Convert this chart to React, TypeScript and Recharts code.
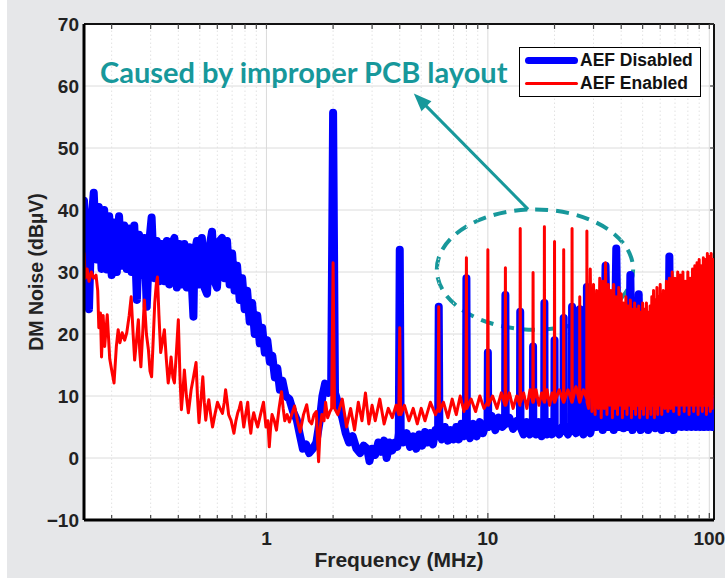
import React from 'react';
import {
  LineChart,
  Line,
  XAxis,
  YAxis,
  CartesianGrid,
  ReferenceLine,
  ReferenceArea,
  Legend,
} from 'recharts';

// ---------- axes ----------
const xMajorTicks = [1, 10, 100];
const xMinorTicks = [0.2, 0.3, 0.4, 0.5, 0.6, 0.7, 0.8, 0.9, 2, 3, 4, 5, 6, 7, 8, 9, 20, 30, 40, 50, 60, 70, 80, 90];
const xAllTicks = [...xMinorTicks, ...xMajorTicks].sort((a, b) => a - b);
const yTicks = [-10, 0, 10, 20, 30, 40, 50, 60, 70];
const xDomain: [number, number] = [0.15, 105];
const yDomain: [number, number] = [-10, 70];

const seriesNames = ['AEF Disabled', 'AEF Enabled'];
const xTitle = 'Frequency (MHz)';
const yTitle = 'DM Noise (dBµV)';
const noteText = 'Caused by improper PCB layout';

// ---------- AEF Disabled (blue) : [MHz, dBµV] ----------
const disabledBroadband: [number, number][] = [
  [0.150, 41.5], [0.154, 33], [0.158, 24], [0.162, 38], [0.166, 42.8], [0.171, 32], [0.175, 40.5], [0.180, 30.5],
  [0.185, 40], [0.190, 30.4], [0.195, 39], [0.200, 29.5], [0.205, 38], [0.211, 30], [0.216, 39], [0.222, 31],
  [0.228, 37.5], [0.234, 30.5], [0.240, 37], [0.246, 30], [0.253, 37.5], [0.260, 25.5], [0.266, 36], [0.273, 29.5],
  [0.281, 35.5], [0.288, 24.4], [0.296, 35], [0.303, 38.8], [0.311, 29], [0.320, 35], [0.328, 28.5], [0.337, 34.5],
  [0.346, 28.5], [0.355, 35], [0.364, 28], [0.374, 34.5], [0.384, 35.5], [0.394, 27.5], [0.404, 34.5], [0.415, 28],
  [0.426, 34.5], [0.437, 27.5], [0.449, 34], [0.461, 27.5], [0.468, 22.8], [0.473, 33], [0.485, 35], [0.498, 28],
  [0.511, 35.5], [0.525, 27.5], [0.539, 26.5], [0.553, 34], [0.568, 36.5], [0.583, 28.5], [0.598, 27.5], [0.614, 35],
  [0.630, 35.5], [0.647, 29], [0.664, 35], [0.682, 28], [0.700, 33], [0.718, 27], [0.737, 31], [0.757, 25.5],
  [0.777, 29], [0.797, 24], [0.818, 27], [0.840, 22], [0.862, 25], [0.885, 20], [0.909, 23], [0.933, 18.5],
  [0.957, 21], [0.983, 17], [1.009, 19], [1.036, 15.5], [1.063, 16.5], [1.091, 13], [1.120, 14.5], [1.150, 11],
  [1.18, 12.5], [1.22, 10], [1.27, 9.5], [1.32, 7.5], [1.37, 6.2], [1.42, 3.5], [1.46, 1.5], [1.51, 2.2],
  [1.56, 0.8], [1.62, 1.5], [1.68, 2.5], [1.74, 6], [1.79, 10], [1.84, 12], [1.90, 10.5], [1.96, 11.5],
];
const disabledHarmonics: [number, number][] = [
  [2.0, 55.7], [2.04, 10.5], [2.12, 8.5], [2.2, 6.5], [2.28, 4], [2.36, 2.5], [2.45, 3.5], [2.55, 1.5],
  [2.65, 0.8], [2.75, 2], [2.85, 1.5], [2.92, -0.5], [3.0, 1.5], [3.1, 0.5], [3.2, 2.5], [3.3, 1],
  [3.4, 2.8], [3.49, 0], [3.6, 2.5], [3.7, 1.2], [3.8, 2.5], [3.9, 1.8], [3.96, 4], [4.0, 33.6],
  [4.04, 4], [4.15, 2.5], [4.3, 4], [4.45, 1.8], [4.6, 3.5], [4.75, 1.5], [4.9, 3.8], [5.05, 2],
  [5.2, 4.2], [5.35, 2.5], [5.5, 4], [5.65, 2.2], [5.8, 4.5], [5.96, 4.5], [6.0, 24.4], [6.04, 4.5],
  [6.2, 3], [6.4, 5], [6.6, 2.8], [6.8, 4.5], [7.0, 3], [7.2, 5], [7.4, 3], [7.6, 5.5],
  [7.8, 3.5], [7.96, 5], [8.0, 29], [8.04, 4.5], [8.3, 3.2], [8.6, 5.5], [8.9, 3.5], [9.2, 5.8],
  [9.5, 4], [9.8, 5.5], [9.96, 5], [10.0, 17], [10.04, 5], [10.4, 6.8], [10.8, 4.5], [11.2, 6.5],
  [11.6, 5], [11.96, 5.5], [12.0, 26.3], [12.04, 5.5], [12.5, 6.5], [13.0, 4.7], [13.5, 6], [13.96, 5],
  [14.0, 23.6], [14.04, 5], [14.5, 3.8], [15.0, 5.8], [15.5, 3.8], [15.96, 5], [16.0, 18], [16.04, 5],
  [16.5, 3.8], [17.0, 5.8], [17.5, 3.5], [17.96, 5], [18.0, 25], [18.04, 5], [18.5, 3.8], [19.0, 5.8],
  [19.5, 3.8], [19.96, 5], [20.0, 19], [20.04, 5], [21.0, 3.8], [21.96, 5.5], [22.0, 22.6], [22.04, 5],
  [23.0, 3.8], [23.96, 5.5], [24.0, 24.4], [24.04, 5], [25.0, 4], [25.96, 5], [26.0, 24], [26.04, 5],
  [27.0, 3.8], [27.96, 5.5], [28.0, 27.6], [28.04, 5], [29.0, 4], [29.6, 5.5],
];
const disabledHighBand: [number, number][] = [
  [30, 20], [31, 5], [32, 14], [33, 4.5], [34, 31], [35, 5], [36, 12], [37, 4.5],
  [38, 33.8], [39, 5], [40, 15], [41, 4.8], [42, 12], [43, 5], [44, 29.5], [45, 4.5],
  [46, 11], [47, 5], [48, 26.4], [49, 4.5], [50, 10], [51, 5], [52, 12], [53, 4.5],
  [54, 9], [55, 5], [56, 10], [57, 4.8], [58, 9], [59, 5], [60, 11], [61, 4.5],
  [62, 9], [63, 5], [64, 12], [65, 4.8], [66, 32.5], [67, 5], [68, 12], [69, 4.5],
  [70, 10], [71, 5], [72, 9], [73, 5.2], [74, 11], [75, 5], [76, 9], [77, 5.5],
  [78, 10], [79, 5], [80, 9], [81, 5.5], [82, 10], [83, 5], [84, 9], [85, 5.5],
  [86, 16], [87, 5], [88, 9], [89, 5.5], [90, 10], [91, 5], [92, 9], [93, 5.5],
  [94, 10], [95, 5], [96, 9], [97, 5.5], [98, 9], [99, 5], [100, 10], [101, 5.5],
  [102, 9], [103, 5], [104, 9], [105, 6],
];

// ---------- AEF Enabled (red) : [MHz, dBµV] ----------
const enabledBroadband: [number, number][] = [
  [0.150, 33], [0.152, 29], [0.155, 30.5], [0.158, 28.5], [0.162, 30], [0.166, 29], [0.170, 29.5], [0.173, 27],
  [0.175, 21], [0.178, 23.4], [0.180, 16.3], [0.183, 23], [0.186, 18], [0.191, 23.1], [0.196, 16], [0.200, 14.2],
  [0.205, 12.1], [0.210, 18], [0.214, 20.7], [0.218, 18.6], [0.223, 20.2], [0.229, 19], [0.234, 20.2], [0.240, 23],
  [0.245, 26], [0.250, 20], [0.254, 15.8], [0.259, 19], [0.264, 22.3], [0.268, 17], [0.271, 14.7], [0.276, 20],
  [0.281, 25.5], [0.287, 20], [0.293, 17.5], [0.298, 14], [0.303, 13.1], [0.308, 19], [0.313, 25], [0.318, 28],
  [0.322, 29.2], [0.327, 23], [0.333, 17], [0.340, 19], [0.346, 20.7], [0.353, 16], [0.360, 12.1], [0.366, 14],
  [0.371, 16.3], [0.378, 13], [0.384, 12.1], [0.392, 17], [0.400, 22.3], [0.407, 13], [0.413, 7.8], [0.420, 11],
  [0.426, 14.2], [0.435, 10], [0.444, 7.3], [0.450, 9], [0.457, 11], [0.468, 13], [0.481, 15.4], [0.488, 10],
  [0.496, 5.7], [0.505, 9], [0.516, 13.1], [0.524, 9], [0.532, 6.1], [0.540, 8], [0.549, 9.4], [0.560, 7],
  [0.571, 5], [0.585, 7], [0.601, 9], [0.617, 8], [0.633, 7.2], [0.645, 9], [0.654, 11], [0.665, 9],
  [0.675, 7], [0.693, 6], [0.713, 4], [0.728, 6], [0.742, 7.3], [0.754, 8], [0.766, 9], [0.778, 7],
  [0.790, 5], [0.806, 7], [0.823, 9], [0.836, 6], [0.850, 4], [0.862, 6], [0.876, 7.3], [0.895, 6],
  [0.913, 5], [0.940, 7], [0.970, 9], [0.995, 5], [1.015, 6], [1.03, 1.8], [1.045, 5], [1.06, 7],
  [1.085, 6], [1.11, 4.5], [1.14, 8], [1.17, 10.7], [1.19, 8], [1.21, 6], [1.24, 7], [1.27, 5.8],
  [1.30, 7], [1.34, 8.4], [1.38, 6], [1.42, 4.2], [1.47, 7], [1.52, 8.6], [1.56, 6], [1.60, 5.5],
  [1.64, 7], [1.68, 7.5], [1.70, 3], [1.72, -0.6], [1.75, 5], [1.78, 7], [1.82, 6], [1.85, 9],
  [1.89, 6.5], [1.93, 7.4], [1.97, 8],
];
const enabledHarmonics: [number, number][] = [
  [2.0, 31.5], [2.03, 8], [2.1, 7], [2.2, 9.5], [2.3, 5], [2.4, 8], [2.5, 4.5], [2.6, 9],
  [2.7, 6], [2.8, 10.5], [2.9, 5.5], [3.0, 8.5], [3.1, 6], [3.25, 9.5], [3.4, 5.5], [3.55, 8],
  [3.7, 6.5], [3.85, 8.5], [3.96, 7], [4.0, 21], [4.04, 7], [4.2, 8.5], [4.4, 6], [4.6, 8],
  [4.8, 5.5], [5.0, 8], [5.2, 6], [5.5, 9], [5.8, 7], [5.96, 8], [6.0, 24.4], [6.04, 7.5],
  [6.3, 9], [6.6, 6.5], [6.9, 9.5], [7.2, 7], [7.5, 10], [7.8, 7.5], [7.96, 9], [8.0, 32.3],
  [8.04, 8], [8.4, 9.5], [8.8, 7.5], [9.2, 10], [9.6, 8], [9.96, 9], [10.0, 33.6], [10.04, 8.5],
  [10.5, 10], [11.0, 8], [11.5, 10.5], [11.96, 8.5], [12.0, 30.7], [12.04, 8.5], [12.5, 10.5], [13.0, 8],
  [13.5, 10], [13.96, 8.5], [14.0, 37], [14.04, 9], [14.5, 10.5], [15.0, 8], [15.5, 11], [15.96, 9],
  [16.0, 29.9], [16.04, 9], [16.5, 11], [17.0, 8.5], [17.5, 10.5], [17.96, 9], [18.0, 37.3], [18.04, 9],
  [18.5, 11], [19.0, 8.5], [19.5, 10.5], [19.96, 9], [20.0, 34.9], [20.04, 9], [21.0, 11], [21.96, 9],
  [22.0, 33.6], [22.04, 9], [23.0, 11], [23.96, 9], [24.0, 37], [24.04, 9], [25.0, 11.5], [25.96, 9],
  [26.0, 26], [26.04, 9], [27.0, 11], [27.96, 9.5], [28.0, 36.6], [28.04, 9], [28.5, 8], [29.0, 30.5],
  [29.5, 7.5],
];
const enabledHighBand: [number, number][] = [
  [30, 28], [30.5, 7], [31, 27], [31.5, 8], [32, 29], [32.5, 6.5], [33, 28.5], [33.5, 8],
  [34, 31.5], [34.5, 7], [35, 28], [35.5, 8.5], [36, 27], [36.5, 6.5], [37, 28], [37.5, 8],
  [38, 26], [38.5, 7], [39, 27.5], [39.5, 8.5], [40, 26.5], [40.5, 6.5], [41, 25], [41.5, 8],
  [42, 26], [42.5, 7], [43, 24.5], [43.5, 8.5], [44, 25.5], [44.5, 6.5], [45, 24], [45.5, 8],
  [46, 25], [46.5, 7], [47, 24], [47.5, 8.5], [48, 24.5], [48.5, 6.5], [49, 23.5], [49.5, 8],
  [50, 25], [50.5, 7], [51, 24], [51.5, 8.5], [52, 25], [52.5, 6.5], [53, 23.5], [53.5, 8],
  [54, 24.5], [54.5, 7], [55, 26], [55.5, 8.5], [56, 27], [56.5, 6.5], [57, 25.5], [57.5, 8],
  [58, 27.5], [58.5, 7], [59, 26], [59.5, 8.5], [60, 28], [61, 7], [62, 27], [63, 8],
  [64, 28.5], [65, 7.5], [66, 29], [67, 8], [68, 30], [69, 7.5], [70, 29], [71, 8.5],
  [72, 30], [73, 7], [74, 29.5], [75, 8.5], [76, 30], [77, 7.5], [78, 28.5], [79, 8.5],
  [80, 30], [81, 7], [82, 29], [83, 8.5], [84, 30.5], [85, 7.5], [86, 31], [87, 8.5],
  [88, 31.5], [89, 7], [90, 32], [91, 8.5], [92, 31], [93, 7.5], [94, 32.3], [95, 8.5],
  [96, 32], [97, 7], [98, 33], [99, 8.5], [100, 32.5], [101, 7.5], [102, 33], [103, 8],
  [104, 32], [105, 24],
];

// ---------- annotation anchors (data coordinates) ----------
const ellipseBox = { f1: 5.88, f2: 45.3, v1: 20.7, v2: 40.1 };
const arrowFrom = { f: 15.2, v: 40.1 };
const arrowTo = { f: 4.63, v: 58.8 };

const toPoints = (arr: [number, number][]) => arr.map(([f, v]) => ({ f, v }));
const disabledData = toPoints([...disabledBroadband, ...disabledHarmonics, ...disabledHighBand]);
const enabledData = toPoints([...enabledBroadband, ...enabledHarmonics, ...enabledHighBand]);

const BLUE = '#0000ff';
const RED = '#ff0000';
const TEAL = '#17989b';
const FONT = "'Liberation Sans', Arial, sans-serif";

const BottomTick = (props: any) => {
  const { x, y, payload } = props;
  const v = payload.value;
  const major = xMajorTicks.includes(v);
  return (
    <g>
      <line x1={x} y1={y - 1.5} x2={x} y2={y - (major ? 7 : 5)} stroke="#444" strokeWidth={1.2} />
      {major && (
        <text x={x} y={y + 25} textAnchor="middle" fontFamily={FONT} fontWeight="bold" fontSize={19} fill="#222">
          {v}
        </text>
      )}
    </g>
  );
};

const EllipseShape = (p: any) => (
  <ellipse
    cx={p.x + p.width / 2}
    cy={p.y + p.height / 2}
    rx={Math.abs(p.width) / 2}
    ry={Math.abs(p.height) / 2}
    fill="none"
    stroke={TEAL}
    strokeWidth={4}
    strokeDasharray="13 8"
  />
);

const ArrowShape = (p: any) => {
  const { x1, y1, x2, y2 } = p;
  const dx = x2 - x1;
  const dy = y2 - y1;
  const len = Math.hypot(dx, dy) || 1;
  const ux = dx / len;
  const uy = dy / len;
  const hl = 18;
  const hw = 7;
  const bx = x2 - ux * hl;
  const by = y2 - uy * hl;
  return (
    <g>
      <line x1={x1} y1={y1} x2={bx + ux * 2} y2={by + uy * 2} stroke={TEAL} strokeWidth={3} />
      <polygon points={`${x2},${y2} ${bx - uy * hw},${by + ux * hw} ${bx + uy * hw},${by - ux * hw}`} fill={TEAL} />
    </g>
  );
};

const LegendBox = () => (
  <div
    style={{
      width: 182,
      height: 50,
      boxSizing: 'border-box',
      border: '1.6px solid #000',
      background: '#fff',
      paddingTop: 1,
      fontFamily: FONT,
      fontWeight: 'bold',
      fontSize: 17.5,
      color: '#111',
    }}
  >
    {seriesNames.map((name, i) => (
      <div key={name} style={{ display: 'flex', alignItems: 'center', height: 23 }}>
        <div
          style={{
            marginLeft: 5,
            width: 53,
            height: i === 0 ? 7 : 3,
            borderRadius: 4,
            background: i === 0 ? BLUE : RED,
          }}
        />
        <span style={{ marginLeft: 2, lineHeight: '23px', whiteSpace: 'nowrap' }}>{name}</span>
      </div>
    ))}
  </div>
);

export default function App() {
  return (
    <div style={{ position: 'absolute', left: 0, top: 0, width: 725, height: 578, background: '#fff', overflow: 'hidden' }}>
      <div style={{ position: 'absolute', left: 7, top: 0, right: 0, bottom: 0, background: '#e6e7e9' }} />
      <div style={{ position: 'absolute', left: 0, top: 0 }}>
        <LineChart width={725} height={578} margin={{ top: 24, right: 11, bottom: 0, left: 0 }}>
          <CartesianGrid vertical={false} stroke="#dcdcdc" fill="#ffffff" />
          {xAllTicks.map((t) => (
            <ReferenceLine
              key={`g${t}`}
              x={t}
              stroke={xMajorTicks.includes(t) ? '#dadada' : '#e2e2e2'}
              strokeWidth={1}
              strokeDasharray={xMajorTicks.includes(t) ? undefined : '1.5 2.5'}
            />
          ))}
          <XAxis
            dataKey="f"
            type="number"
            scale="log"
            domain={xDomain}
            allowDataOverflow
            ticks={xAllTicks}
            interval={0}
            tick={<BottomTick />}
            tickLine={false}
            tickSize={0}
            tickMargin={0}
            axisLine={{ stroke: '#000', strokeWidth: 3 }}
            height={58}
            label={{
              value: xTitle,
              position: 'insideBottom',
              offset: 11,
              style: { fontFamily: FONT, fontWeight: 'bold', fontSize: 21, fill: '#222' },
            }}
          />
          <YAxis
            type="number"
            domain={yDomain}
            allowDataOverflow
            ticks={yTicks}
            interval={0}
            width={84}
            tickLine={false}
            tickSize={0}
            tickMargin={5}
            tickFormatter={(v: number) => (v < 0 ? `\u2212${Math.abs(v)}` : `${v}`)}
            tick={{ fontFamily: FONT, fontWeight: 'bold', fontSize: 19, fill: '#222' }}
            axisLine={{ stroke: '#000', strokeWidth: 3 }}
            label={{
              value: yTitle,
              angle: -90,
              position: 'insideLeft',
              offset: 36,
              style: { fontFamily: FONT, fontWeight: 'bold', fontSize: 19.5, fill: '#222', textAnchor: 'middle' },
            }}
          />
          <ReferenceLine y={yDomain[1]} stroke="#111" strokeWidth={2} />
          <ReferenceLine x={xDomain[1]} stroke="#111" strokeWidth={2} />
          {xAllTicks.map((t) => (
            <ReferenceLine
              key={`tt${t}`}
              segment={[{ x: t, y: yDomain[1] }, { x: t, y: yDomain[1] - 0.8 }]}
              stroke="#444"
              strokeWidth={1.2}
            />
          ))}
          {yTicks.map((t) => (
            <ReferenceLine
              key={`rt${t}`}
              segment={[{ x: 100.8, y: t }, { x: xDomain[1], y: t }]}
              stroke="#444"
              strokeWidth={1.2}
            />
          ))}
          <Line
            data={disabledData}
            dataKey="v"
            name={seriesNames[0]}
            type="linear"
            stroke={BLUE}
            strokeWidth={8}
            strokeLinejoin="round"
            strokeLinecap="round"
            dot={false}
            activeDot={false}
            isAnimationActive={false}
          />
          <Line
            data={enabledData}
            dataKey="v"
            name={seriesNames[1]}
            type="linear"
            stroke={RED}
            strokeWidth={3}
            strokeLinejoin="round"
            strokeLinecap="round"
            dot={false}
            activeDot={false}
            isAnimationActive={false}
          />
          <ReferenceArea
            x1={ellipseBox.f1}
            x2={ellipseBox.f2}
            y1={ellipseBox.v1}
            y2={ellipseBox.v2}
            shape={EllipseShape}
          />
          <ReferenceLine
            segment={[{ x: arrowFrom.f, y: arrowFrom.v }, { x: arrowTo.f, y: arrowTo.v }]}
            shape={ArrowShape}
          />
          <Legend
            layout="vertical"
            align="center"
            verticalAlign="middle"
            wrapperStyle={{ position: 'absolute', left: 519, top: 47, width: 182, height: 50 }}
            content={() => <LegendBox />}
          />
        </LineChart>
      </div>
      <svg width={725} height={578} style={{ position: 'absolute', left: 0, top: 0, pointerEvents: 'none' }}>
        <text x={100} y={83} fontFamily="Lato, 'Open Sans', sans-serif" fontWeight="bold" fontSize={29} fill={TEAL}>
          {noteText}
        </text>
      </svg>
    </div>
  );
}
